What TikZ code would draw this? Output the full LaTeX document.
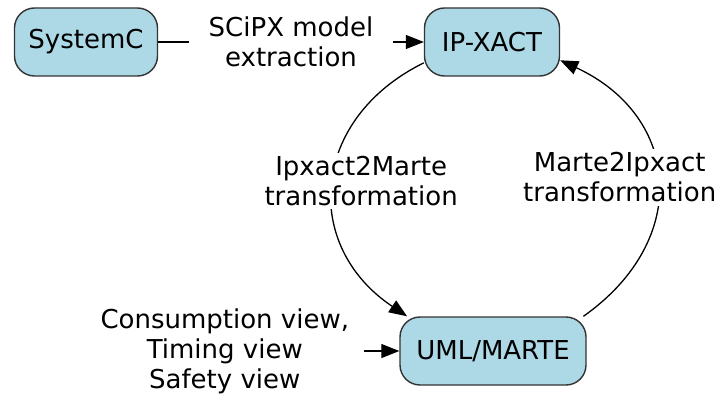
\documentclass[tikz,border=0pt]{standalone}
\usepackage{fontspec}
\setmainfont{DejaVu Sans}
\usetikzlibrary{arrows.meta,positioning}
\definecolor{boxblue}{RGB}{173,216,230}

\begin{document}
\begin{tikzpicture}[x=1pt,y=-1pt,
    box/.style={draw=black!80, line width=1.4pt, fill=boxblue, rounded corners=20pt,
        minimum height=68pt, font=\fontsize{26}{30}\selectfont},
    lbl/.style={fill=white, align=center, font=\fontsize{26}{30}\selectfont},
    edge/.style={line width=1.3pt, -{Triangle[length=18pt,width=14pt]}}]
    \useasboundingbox (0,0) rectangle (715,396);

    \node [box, minimum width=143pt] (sysc) at (86,42) {SystemC};
    \node [box, minimum width=135pt] (ipx) at (492,42) {IP-XACT};
    \node [box, minimum width=186pt] (uml) at (493,351) {UML/MARTE};
    \node [lbl, inner xsep=15pt, left=35pt of uml] (views) {Consumption view,\\Timing view\\Safety view};

    \draw [edge] (sysc) -- node [lbl, inner xsep=20pt] {SCiPX model\\extraction} (ipx);
    \draw [edge] (ipx.197) to [bend right=60, looseness=1.28]
        node [lbl, xshift=28pt, yshift=3pt] {Ipxact2Marte\\transformation} (uml.158);
    \draw [edge] (uml.21) to [bend right=60, looseness=1.32]
        node [lbl, xshift=-38pt, yshift=3pt] {Marte2Ipxact\\transformation} (ipx.-15);
    \draw [edge] (views) -- (uml);

\end{tikzpicture}
\end{document}
